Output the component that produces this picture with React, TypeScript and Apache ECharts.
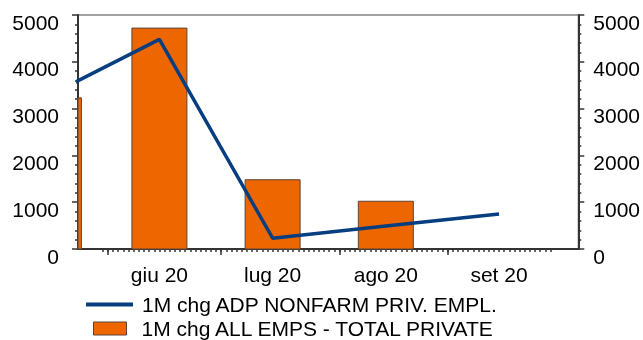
import React, { useEffect, useRef } from "react";
import * as echarts from "echarts";

// x positions are business-day indices counted from 1 Jun 2020
const pointDays = [-10.5, 10, 32, 54, 76];
const adpValues = [3335, 4480, 230, 490, 750];
const blsValues: (number | null)[] = [3230, 4720, 1480, 1020, null];
const monthLabels = ["giu 20", "lug 20", "ago 20", "set 20"];
const monthLabelDays = [10, 32, 54, 76];
const monthStartDays = [0, 22, 45, 66];
const firstMinorDay = -1;
const lastMinorDay = 86;
const lineName = "1M chg ADP NONFARM PRIV. EMPL.";
const barName = "1M chg ALL EMPS - TOTAL PRIVATE";

const FONT = "'Liberation Sans', Arial, sans-serif";
const FS = 21;
const BAR_COLOR = "#EE6600";
const BAR_BORDER = "#5a4438";
const LINE_COLOR = "#073E7F";

export default function App() {
  const ref = useRef<HTMLDivElement>(null);
  useEffect(() => {
    if (!ref.current) return;
    const chart = echarts.init(ref.current, null, { renderer: "svg" });
    const minorDays: number[] = [];
    for (let d = firstMinorDay; d <= lastMinorDay; d++) minorDays.push(d);
    const xMin = -5.82;
    const xMax = 91.4;
    const yAxisCommon = {
      type: "value",
      min: 0,
      max: 5000,
      interval: 1000,
      splitLine: { show: false },
      axisLine: { show: true, onZero: false, lineStyle: { color: "#333", width: 2 } },
      axisTick: { show: true, length: 6, lineStyle: { color: "#333", width: 1.5 } },
      minorTick: { show: true, splitNumber: 5, length: 3, lineStyle: { color: "#333", width: 1.5 } },
      axisLabel: {
        color: "#000",
        fontSize: FS,
        fontFamily: FONT,
        verticalAlign: "top",
        lineHeight: 14,
        formatter: (v: number) => String(v),
      },
    };
    const barData = pointDays
      .map((d, i) => [d, blsValues[i]])
      .filter((p) => p[1] !== null);
    chart.setOption({
      animation: false,
      grid: { left: 78, right: 63, top: 15, bottom: 91, show: true, borderColor: "#444", borderWidth: 1, backgroundColor: "transparent" },
      xAxis: [
        {
          type: "value",
          min: xMin,
          max: xMax,
          splitLine: { show: false },
          axisLine: { show: true, onZero: false, lineStyle: { color: "#333", width: 2 } },
          axisTick: { show: true, length: 6, customValues: monthStartDays, lineStyle: { color: "#333", width: 1.5 } },
          axisLabel: {
            show: true,
            customValues: monthLabelDays,
            margin: 15,
            color: "#000",
            fontSize: FS,
            fontFamily: FONT,
            formatter: (v: number) => {
              const i = monthLabelDays.indexOf(v);
              return i >= 0 ? monthLabels[i] : "";
            },
          },
        },
        {
          type: "value",
          min: xMin,
          max: xMax,
          position: "bottom",
          splitLine: { show: false },
          axisLine: { show: false, onZero: false },
          axisTick: { show: true, length: 3, customValues: minorDays, lineStyle: { color: "#333", width: 1.5 } },
          axisLabel: { show: false },
        },
      ],
      yAxis: [
        { ...yAxisCommon, position: "left", axisLabel: { ...yAxisCommon.axisLabel, margin: 19 } },
        { ...yAxisCommon, position: "right", axisLabel: { ...yAxisCommon.axisLabel, margin: 15 } },
      ],
      legend: [
        {
          data: [{ name: lineName, icon: "rect", itemStyle: { color: LINE_COLOR, borderWidth: 0 } }],
          left: 86,
          top: 294,
          itemWidth: 47,
          itemHeight: 4,
          padding: 0,
          selectedMode: false,
          textStyle: { color: "#000", fontSize: FS, fontFamily: FONT, padding: [0, 0, 0, 4] },
        },
        {
          data: [{ name: barName, icon: "rect", itemStyle: { color: BAR_COLOR, borderColor: BAR_BORDER, borderWidth: 1 } }],
          left: 93,
          top: 318,
          itemWidth: 33,
          itemHeight: 13,
          padding: 0,
          selectedMode: false,
          textStyle: { color: "#000", fontSize: FS, fontFamily: FONT, padding: [0, 0, 0, 10] },
        },
      ],
      series: [
        {
          name: barName,
          type: "custom",
          xAxisIndex: 0,
          yAxisIndex: 0,
          itemStyle: { color: BAR_COLOR, borderColor: BAR_BORDER, borderWidth: 1 },
          encode: { x: 0, y: 1 },
          data: barData,
          renderItem: (params: any, api: any) => {
            const x = api.value(0);
            const y = api.value(1);
            const p0 = api.coord([x, 0]);
            const p1 = api.coord([x, y]);
            const w = 55;
            const cs = params.coordSys;
            const rect = echarts.graphic.clipRectByRect(
              { x: p0[0] - w / 2, y: p1[1], width: w, height: p0[1] - p1[1] },
              { x: cs.x, y: cs.y, width: cs.width, height: cs.height }
            );
            if (!rect) return null;
            return {
              type: "rect",
              shape: rect,
              style: { fill: BAR_COLOR, stroke: BAR_BORDER, lineWidth: 1 },
            };
          },
        },
        {
          name: lineName,
          type: "line",
          xAxisIndex: 0,
          yAxisIndex: 0,
          showSymbol: false,
          symbol: "none",
          clip: true,
          z: 5,
          lineStyle: { color: LINE_COLOR, width: 3.5 },
          itemStyle: { color: LINE_COLOR },
          data: pointDays.map((d, i) => [d, adpValues[i]]),
        },
      ],
    });
    return () => chart.dispose();
  }, []);
  return <div ref={ref} style={{ position: "fixed", left: 0, top: 0, width: 643, height: 340 }} />;
}
